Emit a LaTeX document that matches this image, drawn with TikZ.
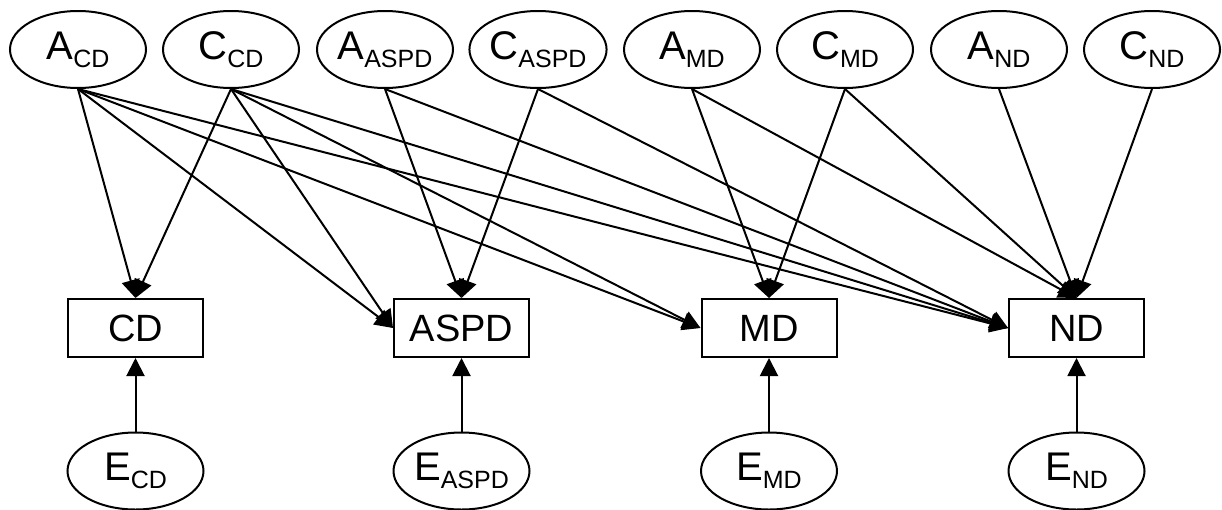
\documentclass[tikz,border=0pt]{standalone}
\usepackage{fontspec}
\setmainfont{Liberation Sans}
\usetikzlibrary{arrows.meta,shapes.geometric}
\newcommand{\lbl}[2]{#1\raisebox{-8pt}{\fontsize{25}{25}\selectfont #2}}
\tikzset{
  latent/.style={draw, ellipse, line width=2pt, minimum width=136pt, minimum height=77pt, inner sep=0pt, font=\fontsize{40}{40}\selectfont},
  observed/.style={draw, rectangle, line width=2pt, minimum width=135pt, minimum height=58pt, inner sep=0pt, font=\fontsize{38}{38}\selectfont},
  path/.style={line width=2pt, -{Triangle[length=18pt,width=18pt]}}
}
\begin{document}
\begin{tikzpicture}[x=1pt,y=-1pt]
\useasboundingbox (0,0) rectangle (1222,509);
% top latent factors
\node[latent] (acd) at (78,49.5) {\lbl{A}{CD}};
\node[latent] (ccd) at (231,49.5) {\lbl{C}{CD}};
\node[latent] (aaspd) at (385,49.5) {\lbl{A}{ASPD}};
\node[latent] (caspd) at (538,49.5) {\lbl{C}{ASPD}};
\node[latent] (amd) at (692,49.5) {\lbl{A}{MD}};
\node[latent] (cmd) at (845,49.5) {\lbl{C}{MD}};
\node[latent] (and) at (999,49.5) {\lbl{A}{ND}};
\node[latent] (cnd) at (1152,49.5) {\lbl{C}{ND}};
% observed
\node[observed] (cd) at (135.5,328) {CD};
\node[observed] (aspd) at (461.5,328) {ASPD};
\node[observed] (md) at (769,328) {MD};
\node[observed] (nd) at (1076.5,328) {ND};
% unique environment
\node[latent] (ecd) at (135.5,471) {\lbl{E}{CD}};
\node[latent] (easpd) at (461.5,471) {\lbl{E}{ASPD}};
\node[latent] (emd) at (769,471) {\lbl{E}{MD}};
\node[latent] (end) at (1076.5,471) {\lbl{E}{ND}};
% paths
\draw[path] (acd.south) -- (cd.north);
\draw[path] (acd.south) -- (aspd.west);
\draw[path] (acd.south) -- (md.west);
\draw[path] (acd.south) -- (nd.west);
\draw[path] (ccd.south) -- (cd.north);
\draw[path] (ccd.south) -- (aspd.west);
\draw[path] (ccd.south) -- (md.west);
\draw[path] (ccd.south) -- (nd.west);
\draw[path] (aaspd.south) -- (aspd.north);
\draw[path] (aaspd.south) -- (nd.west);
\draw[path] (caspd.south) -- (aspd.north);
\draw[path] (caspd.south) -- (nd.west);
\draw[path] (amd.south) -- (md.north);
\draw[path] (amd.south) -- (nd.north);
\draw[path] (cmd.south) -- (md.north);
\draw[path] (cmd.south) -- (nd.north);
\draw[path] (and.south) -- (nd.north);
\draw[path] (cnd.south) -- (nd.north);
\draw[path] (ecd.north) -- (cd.south);
\draw[path] (easpd.north) -- (aspd.south);
\draw[path] (emd.north) -- (md.south);
\draw[path] (end.north) -- (nd.south);
\end{tikzpicture}
\end{document}
